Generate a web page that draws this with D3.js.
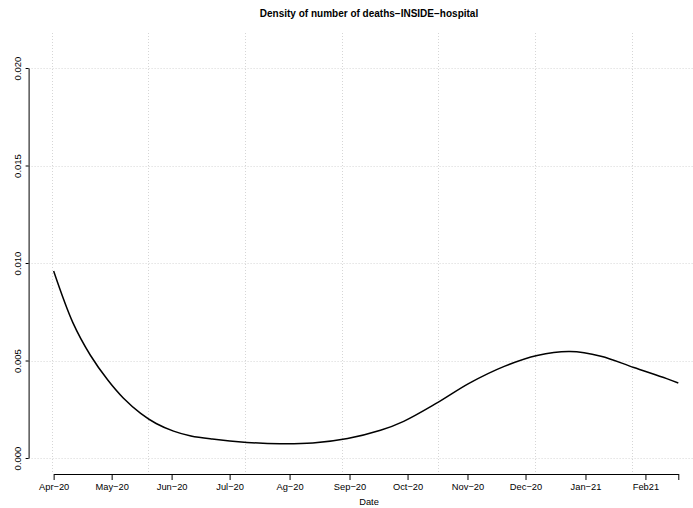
<!DOCTYPE html>
<html>
<head>
<meta charset="utf-8">
<script src="https://cdn.jsdelivr.net/npm/d3@7"></script>
<style>
  html, body { margin: 0; padding: 0; background: #fff; }
  svg { display: block; font-family: "Liberation Sans", Arial, Helvetica, sans-serif; }
</style>
</head>
<body>
<svg id="chart" width="693" height="508"></svg>
<script>
// Kernel density estimate of daily in-hospital deaths, by date
const dates = [
  "2020-04-01", "2020-04-11", "2020-04-20", "2020-04-29", "2020-05-07",
  "2020-05-16", "2020-05-24", "2020-06-02", "2020-06-11", "2020-06-22",
  "2020-07-10", "2020-07-27", "2020-08-13", "2020-08-31", "2020-09-17",
  "2020-09-29", "2020-10-16", "2020-11-02", "2020-11-20", "2020-12-07",
  "2020-12-24", "2021-01-09", "2021-01-26", "2021-02-12", "2021-02-18"
];
const density = [
  0.00959, 0.00693, 0.00527, 0.00400, 0.00308,
  0.00229, 0.00177, 0.00138, 0.00113, 0.00097,
  0.00080, 0.00073, 0.00077, 0.00100, 0.00142,
  0.00188, 0.00281, 0.00384, 0.00470, 0.00526,
  0.00546, 0.00522, 0.00464, 0.00407, 0.00385
];

// Month axis: tick positions and their labels (last tick is the end of the series)
const monthTicks = [
  "2020-04-01", "2020-05-01", "2020-06-01", "2020-07-01", "2020-08-01",
  "2020-09-01", "2020-10-01", "2020-11-01", "2020-12-01", "2021-01-01",
  "2021-02-01", "2021-02-18"
];
const monthLabels = [
  "Apr\u221220", "May\u221220", "Jun\u221220", "Jul\u221220", "Ag\u221220",
  "Sep\u221220", "Oct\u221220", "Nov\u221220", "Dec\u221220", "Jan\u221221",
  "Feb21", ""
];
const yTicks = [0, 0.005, 0.010, 0.015, 0.020];
// background grid every 50 days
const gridDates = [
  "2020-03-31", "2020-05-20", "2020-07-09", "2020-08-28",
  "2020-10-17", "2020-12-06", "2021-01-25"
];

const title = "Density of number of deaths\u2212INSIDE\u2212hospital";
const xTitle = "Date";

const parse = d3.utcParse("%Y-%m-%d");
const data = dates.map((d, i) => ({ date: parse(d), value: density[i] }));

const svg = d3.select("#chart");

// plotting region
const plotLeft = 28.6, plotRight = 703, plotTop = 33, plotBottom = 474;

const x = d3.scaleUtc()
  .domain([parse("2020-03-31"), parse("2021-02-18")])
  .range([51.7, 678.3]);
const y = d3.scaleLinear()
  .domain([0, 0.02])
  .range([458, 68]);

// grid
const grid = svg.append("g")
  .attr("stroke", "#d6d6d6")
  .attr("stroke-width", 1)
  .attr("stroke-dasharray", "1,2");
grid.selectAll("line.v")
  .data(gridDates.map(parse))
  .join("line")
  .attr("class", "v")
  .attr("x1", d => Math.round(x(d)) + 0.5)
  .attr("x2", d => Math.round(x(d)) + 0.5)
  .attr("y1", plotTop)
  .attr("y2", plotBottom);
grid.selectAll("line.h")
  .data(yTicks)
  .join("line")
  .attr("class", "h")
  .attr("x1", plotLeft)
  .attr("x2", plotRight)
  .attr("y1", d => Math.round(y(d)) + 0.5)
  .attr("y2", d => Math.round(y(d)) + 0.5);

// density curve
const line = d3.line()
  .x(d => x(d.date))
  .y(d => y(d.value))
  .curve(d3.curveCatmullRom.alpha(0.5));
svg.append("path")
  .datum(data)
  .attr("fill", "none")
  .attr("stroke", "#000")
  .attr("stroke-width", 1.5)
  .attr("d", line);

// x axis spanning first to last tick
const tickDates = monthTicks.map(parse);
const xAxisScale = x.copy()
  .domain([tickDates[0], tickDates[tickDates.length - 1]])
  .range([x(tickDates[0]), x(tickDates[tickDates.length - 1])]);
const xAxis = d3.axisBottom(xAxisScale)
  .tickValues(tickDates)
  .tickSize(6)
  .tickSizeOuter(0)
  .tickPadding(3)
  .tickFormat((d, i) => monthLabels[i]);
const gx = svg.append("g")
  .attr("transform", `translate(0,${plotBottom})`)
  .call(xAxis);
gx.selectAll("text")
  .attr("font-size", 9.3)
  .attr("fill", "#000")
  .attr("font-family", "'Liberation Sans', Arial, sans-serif");
gx.select(".domain").attr("stroke", "#000");
gx.selectAll(".tick line").attr("stroke", "#000");

// y axis with rotated labels
const yAxis = d3.axisLeft(y)
  .tickValues(yTicks)
  .tickSize(3)
  .tickSizeOuter(0)
  .tickFormat(d3.format(".3f"));
const gy = svg.append("g")
  .attr("transform", `translate(${plotLeft},0)`)
  .call(yAxis);
gy.select(".domain").attr("stroke", "#000");
gy.selectAll(".tick line").attr("stroke", "#000");
gy.selectAll(".tick text")
  .attr("x", null)
  .attr("dy", null)
  .attr("text-anchor", "middle")
  .attr("font-size", 9.5)
  .attr("fill", "#000")
  .attr("font-family", "'Liberation Sans', Arial, sans-serif")
  .attr("transform", "translate(-8,0) rotate(-90)");

// titles
svg.append("text")
  .attr("x", 369)
  .attr("y", 17)
  .attr("text-anchor", "middle")
  .attr("font-size", 10)
  .attr("font-weight", "bold")
  .attr("fill", "#000")
  .text(title);
svg.append("text")
  .attr("x", 369)
  .attr("y", 505)
  .attr("text-anchor", "middle")
  .attr("font-size", 9.3)
  .attr("fill", "#000")
  .text(xTitle);
</script>
</body>
</html>
